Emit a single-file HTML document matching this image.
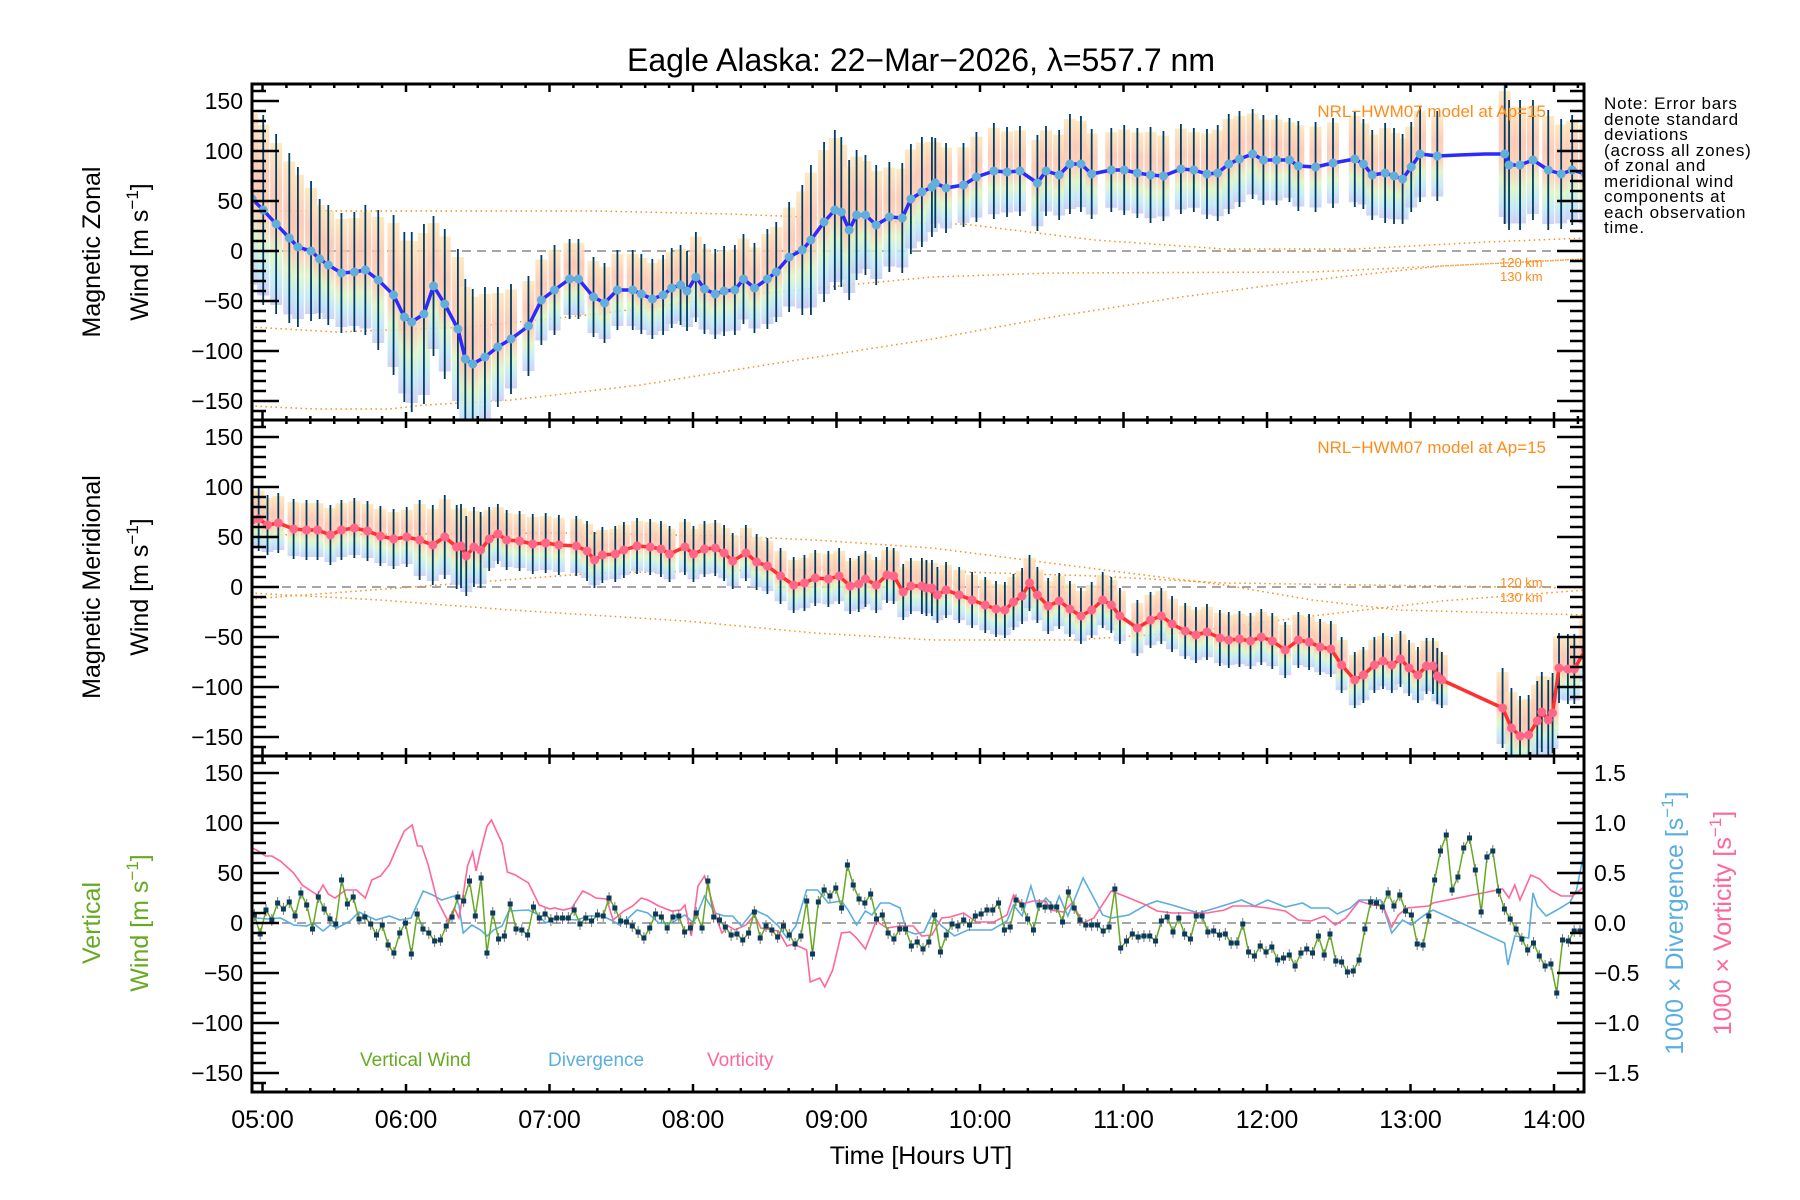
<!DOCTYPE html>
<html><head><meta charset="utf-8"><title>Eagle Alaska winds</title>
<style>
html,body{margin:0;padding:0;background:#fff;}
svg{display:block;font-family:"Liberation Sans",sans-serif;}
</style></head>
<body>
<svg id="chart" width="1800" height="1200" viewBox="0 0 1800 1200" xmlns="http://www.w3.org/2000/svg">
<defs>
<linearGradient id="pastel" x1="0" y1="0" x2="0" y2="1">
<stop offset="0" stop-color="#fde6b8"/><stop offset="0.3" stop-color="#fcc4ae"/><stop offset="0.55" stop-color="#fbcdb0"/>
<stop offset="0.7" stop-color="#dcf5c4"/><stop offset="0.85" stop-color="#bfe9f3"/><stop offset="1" stop-color="#c9c9f4"/>
</linearGradient>
<clipPath id="c0"><rect x="252" y="84" width="1332" height="336"/></clipPath>
<clipPath id="c1"><rect x="252" y="420" width="1332" height="336"/></clipPath>
<clipPath id="c2"><rect x="252" y="756" width="1332" height="336"/></clipPath>
</defs>
<rect width="1800" height="1200" fill="#fff"/>
<text x="921" y="71" font-size="32" text-anchor="middle">Eagle Alaska: 22−Mar−2026, λ=557.7 nm</text>
<g id="data-layer"></g>
<g id="axes-layer"></g>

<text transform="translate(100,252) rotate(-90)" font-size="25" text-anchor="middle">Magnetic Zonal</text>
<text transform="translate(148,252) rotate(-90)" font-size="25" text-anchor="middle">Wind [m s<tspan font-size="17" dy="-10">−1</tspan><tspan dy="10">]</tspan></text>
<text transform="translate(100,587) rotate(-90)" font-size="25" text-anchor="middle">Magnetic Meridional</text>
<text transform="translate(148,587) rotate(-90)" font-size="25" text-anchor="middle">Wind [m s<tspan font-size="17" dy="-10">−1</tspan><tspan dy="10">]</tspan></text>
<text transform="translate(100,923) rotate(-90)" font-size="25" text-anchor="middle" fill="#66aa22">Vertical</text>
<text transform="translate(148,923) rotate(-90)" font-size="25" text-anchor="middle" fill="#66aa22">Wind [m s<tspan font-size="17" dy="-10">−1</tspan><tspan dy="10">]</tspan></text>
<text transform="translate(1683,923) rotate(-90)" font-size="25" text-anchor="middle" fill="#5aaee0">1000 × Divergence [s<tspan font-size="17" dy="-10">−1</tspan><tspan dy="10">]</tspan></text>
<text transform="translate(1731,923) rotate(-90)" font-size="25" text-anchor="middle" fill="#ff6699">1000 × Vorticity [s<tspan font-size="17" dy="-10">−1</tspan><tspan dy="10">]</tspan></text>

<g font-size="17" letter-spacing="0.8">
<text x="1604" y="109">Note: Error bars</text><text x="1604" y="125">denote standard</text><text x="1604" y="140">deviations</text>
<text x="1604" y="156">(across all zones)</text><text x="1604" y="171">of zonal and</text><text x="1604" y="187">meridional wind</text>
<text x="1604" y="202">components at</text><text x="1604" y="218">each observation</text><text x="1604" y="233">time.</text>
</g>
<text x="1546" y="117" font-size="17" fill="#ff8c1a" text-anchor="end">NRL−HWM07 model at Ap=15</text>
<text x="1546" y="453" font-size="17" fill="#ff8c1a" text-anchor="end">NRL−HWM07 model at Ap=15</text>
<text x="1500" y="267" font-size="13" fill="#ff8c1a">120 km</text>
<text x="1500" y="281" font-size="13" fill="#ff8c1a">130 km</text>
<text x="1500" y="587" font-size="13" fill="#ff8c1a">120 km</text>
<text x="1500" y="602" font-size="13" fill="#ff8c1a">130 km</text>
<text x="360" y="1066" font-size="19" fill="#66aa22">Vertical Wind</text>
<text x="548" y="1066" font-size="19" fill="#5aaee0">Divergence</text>
<text x="707" y="1066" font-size="19" fill="#ff6699">Vorticity</text>
<text x="921" y="1164" font-size="25" text-anchor="middle">Time [Hours UT]</text>
</svg>
<script>
// ---- data (times in minutes after 05:00 UT) ----
const hourLabels = ["05:00","06:00","07:00","08:00","09:00","10:00","11:00","12:00","13:00","14:00"];
const windTicks = [150,100,50,0,-50,-100,-150];
const rightTicks = [1.5,1.0,0.5,0.0,-0.5,-1.0,-1.5];

const zonalTimes = [-4.3,0.3,5.7,11.2,14.8,20.3,23.9,27.5,33,38.4,43,48.4,54.8,59.3,62.4,67.5,71.5,76.2,81.7,84.8,87.9,93,98.4,103.9,111.2,116.6,122.1,128.4,132.1,138.4,143,148.4,154.8,158.4,163,167.5,171.1,174.8,177.5,181.2,184.8,189.3,193,197.5,201.1,205.7,211.1,214.8,220.2,225.7,229.3,234.8,239.3,242,245.3,248.4,252.1,256.6,262.1,267.5,271.1,275.7,279.9,
281.3,285.8,293.1,298.5,305.8,311.3,316.7,324,327.6,333.1,337.6,342.2,346.7,354.9,360.3,365.8,371.3,376.7,384,389.4,394.9,399.4,404,408.5,414,418.5,424,429.4,433.1,440.3,447.6,456.7,460.3,464,469.4,473.1,476.7,480.3,484,491.2,500.3,511.2,519.4,521.2,525.8,531.2,537.6,543,547.6,553.1];
const zonalValues = [52,41,27,13,4,0,-8,-14,-22,-21,-19,-29,-44,-66,-71,-63,-35,-53,-78,-108,-113,-106,-96,-88,-75,-49,-39,-28,-28,-46,-52,-39,-39,-43,-48,-44,-37,-34,-40,-26,-38,-43,-40,-39,-28,-37,-28,-21,-6,1,11,29,41,39,21,36,36,26,34,33,52,59,64,
68,63,66,74,80,79,80,68,80,76,87,87,77,81,81,78,76,75,82,81,77,78,87,92,97,91,91,91,85,84,88,92,87,76,78,75,72,84,97,95,96,97,97,86,86,91,81,77,81,77];
const zonalStd = [95,95,90,85,80,70,60,60,60,60,65,70,80,85,90,90,70,75,80,80,75,70,60,55,50,45,45,40,40,40,40,40,40,40,40,40,40,40,40,45,45,45,45,45,45,45,50,50,55,65,75,80,80,75,70,65,60,60,55,55,55,55,50,
45,45,42,45,48,45,45,48,45,45,50,48,45,42,45,45,48,45,45,42,45,48,50,48,45,45,45,42,45,45,45,48,45,45,50,48,45,45,48,45,0,0,70,65,65,60,60,55,55,55];

const meridTimes = [-4.3,-1.6,2.1,6.6,13,18.4,23,28.4,33,38.4,43.9,49.3,54.8,60.3,65.7,71.2,76.2,81.2,83,85.2,88.4,91.2,94.8,98.4,102.1,107.5,113,118.4,123.9,131.2,135.7,138.8,142.1,147.5,151.1,156.6,162.1,166.6,170.2,176.6,180.2,184.8,189.3,193,196.6,202.1,206.6,211.1,216.6,222.1,226.6,231.1,236.6,241.1,245.7,249.3,252.1,256.6,261.1,263.9,267.9,271.1,275.7,279.9,
277.6,282.2,285.8,291.3,296.7,302.2,306.7,310.4,314,317.6,320.7,324,328.5,333.1,337.6,342.2,346.7,351.3,354.9,358.5,365.8,371.3,375.8,380.3,385.8,390.3,394.9,400.3,404,408.5,413.1,417.6,422.2,427.6,433.1,437.6,442.2,446.7,451.2,456.7,460.3,464.9,468.5,472.2,475.8,479.4,483.1,486.7,489.4,491.2,493.1,518.5,522.2,525.8,529.4,533,534.9,537.6,539.4,542.1,545.8,548.5,553.1];
const meridValues = [67,68,62,64,58,57,57,52,57,59,56,51,48,50,47,42,50,40,41,31,40,37,48,53,47,46,43,44,42,41,36,27,32,33,37,41,40,38,33,40,33,38,39,34,26,34,25,21,11,2,4,9,8,11,1,3,8,2,12,11,-5,1,1,-1,
-1,-8,-3,-8,-13,-18,-22,-23,-15,-9,4,-8,-19,-14,-22,-29,-23,-13,-18,-29,-41,-33,-29,-37,-44,-48,-45,-51,-53,-52,-54,-50,-54,-63,-53,-55,-60,-62,-78,-93,-88,-78,-74,-78,-72,-81,-88,-79,-79,-89,-93,-121,-141,-149,-148,-134,-125,-133,-126,-81,-82,-82,-63];
const meridStd = [32,32,30,30,30,30,30,30,30,30,30,30,30,30,40,40,42,42,42,40,40,38,32,30,30,30,30,30,30,30,30,28,28,28,28,28,28,28,28,28,28,28,28,28,28,28,28,28,28,28,28,28,28,28,28,28,28,28,28,28,28,28,28,28,
28,28,28,28,28,28,28,28,28,28,28,28,28,28,28,28,28,28,28,28,28,28,28,28,28,28,28,28,28,28,28,28,28,28,28,28,28,28,28,28,28,28,28,28,28,28,28,28,28,28,28,40,40,40,40,40,40,40,40,35,35,35,35];

const modelTimesZ = [-5,31,86,131,140,195,249,280,293,348,402,457,512,553];
const zonalModelA = [40,40,40,40,40,37,32,27,27,11,2,2,9,13];
const zonalModelBTimes = [-5,31,86,140,195,249,280,330,439,493,553];
const zonalModelB = [-76,-81,-76,-63,-46,-33,-26,-22,-21,-15,-8];
const zonalModelCTimes = [-5,22,53,68,104,158,213,280,330,384,439,493,553];
const zonalModelC = [-155,-158,-158,-154,-149,-134,-113,-88,-66,-46,-29,-15,-8];
const meridModelATimes = [-5,131,195,231,280,352,402,439,475,553];
const meridModelA = [52,54,51,47,39,17,2,-13,-23,-28];
const meridModelBTimes = [-5,68,140,213,280,348,402,493,553];
const meridModelB = [-12,1,14,17,16,11,4,1,-1];
const meridModelCTimes = [-5,49,104,177,231,280,339,384,439,493,553];
const meridModelC = [-6,-13,-23,-34,-46,-53,-53,-46,-29,-14,-3];

const vertStart = -3.4, vertEnd = 553.3;
const vertValues = [8,-11,13,3,20,14,21,7,30,18,-6,26,14,4,-1,43,19,26,4,6,-1,-12,-2,-22,-30,-10,0,-31,9,-6,-10,-18,-17,-3,6,26,22,42,7,45,-30,10,-16,-13,19,-6,-7,-12,16,5,9,3,5,5,5,13,-1,5,2,8,7,25,15,2,1,-3,-9,-15,-5,9,6,-5,6,7,-9,-5,10,-5,42,6,3,-4,-12,-11,-17,-10,11,-15,-3,-7,-14,-3,-12,-21,-13,22,-31,21,33,27,35,15,58,38,24,20,29,4,8,-10,-16,-6,-6,-23,-19,-26,-19,8,
-29,-12,-1,-3,3,-2,7,9,13,13,20,-7,-4,23,18,4,-7,18,16,16,16,1,31,15,3,-2,-2,-2,-8,-4,34,-25,-18,-11,-14,-13,-13,-18,2,6,-9,5,-11,-16,7,7,-9,-8,-12,-11,-20,-20,-1,-29,-33,-23,-29,-24,-37,-35,-32,-43,-30,-26,-30,-13,-32,-11,-38,-39,-49,-48,-37,-6,21,20,16,30,17,28,12,8,-21,-22,7,43,72,88,33,46,75,85,53,11,66,72,32,14,4,-6,-16,-27,-20,-33,-43,-41,-70,-17,-18,-8,-8,-4];

const divTimes = [-5,-2.5,2,7.5,13,18.4,21.2,25.3,28.4,31.2,36.6,40.3,43.9,47.5,53,57.5,62.1,67.2,71.2,74.8,80.2,82.1,83.9,87.5,91.2,93.9,96.6,100.2,103,111.2,114.8,118.4,122.1,131.2,136.6,142.1,145.7,149.3,153,156.6,161.1,165.7,171.1,176.6,180.2,184.8,186.6,189.3,193,196.6,200.2,205.7,211.1,215.7,219.3,223,227.5,232.1,236.6,242.1,244.8,248.4,252.1,254.8,258.4,262.1,266.6,269.3,273,276.6,279.9,
284,289.4,294.9,304.9,311.3,314,317.6,321.3,324,327.6,331.3,333.1,336.7,343.1,347.6,351.3,354.9,362.2,369.4,374,380.3,391.3,398.5,409.4,414.9,420.3,427.6,434.9,438.5,445.8,449.4,454.9,458.5,464,467.6,472.2,476.7,480.3,485.8,489.4,519.4,520.7,523.6,529.4,531.2,533,536.7,541.2,546.7,549.4,553.1];
const divValues = [.18,.05,.04,.05,-.02,-.03,0,-.08,-.02,-.05,.02,.11,.07,.03,.07,.03,.05,.32,.28,.23,.27,.18,-.1,-.02,-.07,-.13,-.07,-.03,.12,.13,.09,0,.05,.03,.07,.07,.03,-.02,.05,.13,.1,0,0,.08,0,.27,.2,.1,.07,.07,-.03,.13,.07,-.03,-.15,-.03,.33,.33,.2,.22,.13,-.02,.12,.08,.2,.2,.15,-.08,-.11,-.09,.08,
-.03,-.13,-.07,-.07,.02,.18,.07,.37,.15,.25,.15,.27,.07,.45,.25,.08,.05,.08,.18,.22,.18,.1,.15,.23,.17,.23,.16,.2,.15,.15,.09,.15,.23,.23,.23,-.1,.03,-.02,.08,.13,-.2,-.42,-.13,-.15,.3,.17,.07,.13,.21,.33,.77];

const vortTimes = [-5.2,-2.5,1.2,3.9,7.5,13,16.6,20.3,23,25.3,27.5,30.3,34.8,39.3,43,45.7,49.3,53,55.7,59.3,62.6,64.8,66.6,69.3,73,77.5,80.2,82.1,84.2,85.7,87.9,89.3,91.2,93.9,95.7,100.2,102.4,105.7,111.2,115.7,120.2,122.1,125.7,129.3,133.9,136.6,139.3,143.9,146.6,151.1,154.8,158.4,161.1,165.7,171.1,174.8,176.6,179.3,182.1,184.8,186.6,190.2,192.1,194.8,197.5,202.1,205.7,208.4,213,215.7,219.3,222.1,227.5,229,233,235.1,238.4,242.1,245.7,248.4,252.1,256.6,261.1,266.6,272.1,275.7,279.9,
284,287.6,293.1,298.5,305.8,311.3,314,317.6,322.2,327.6,329.4,334.9,338.5,343.1,347.6,354.9,360.3,369.4,374,380.3,387.6,394.9,402.2,405.8,413.1,420.3,427.6,433.1,438.5,444,448.5,453,458.5,464,468.5,472.2,474.9,478.5,487.6,489.4,518.5,521.2,523.6,525.8,530.3,534,538.5,543,547.6,553.1];
const vortValues = [.76,.73,.67,.67,.62,.5,.38,.32,.28,.38,.29,.25,.33,.33,.25,.43,.47,.58,.73,.92,.98,.77,.77,.58,.23,.02,.15,.05,.33,.57,.71,.52,.72,.97,1.03,.8,.51,.48,.4,.18,.14,.15,.13,.15,.32,.29,.25,.24,.03,.12,.17,.25,.23,.17,.12,.13,.18,-.13,.37,.47,.33,.02,-.1,-.03,-.07,-.02,.08,-.05,-.07,-.08,-.23,-.21,-.27,-.59,-.55,-.64,-.47,-.1,-.09,-.15,-.26,.02,-.05,-.03,-.03,-.13,-.12,
.05,.06,.1,.01,.01,.08,.28,.19,.22,.22,.13,.11,.2,0,.05,.32,.27,.18,.12,.1,.1,.1,.13,.17,.17,.15,.12,.03,.02,.07,-.02,.05,.22,.18,.17,-.04,.08,.15,.17,.2,.34,.25,.38,.23,.48,.44,.33,.27,.27,.37];

// ---- geometry ----
const NS = "http://www.w3.org/2000/svg";
const L = 252, R = 1584, tops = [84,420,756], PH = 336;
function X(m){ return 262.5 + 143.5*m/60; }
function Yw(p,v){ return tops[p] + 167 - v; }
function Yr(v){ return tops[2] + 167 - v*100; }
function mk(tag, attrs, parent){
  const e = document.createElementNS(NS, tag);
  for (const k in attrs) e.setAttribute(k, attrs[k]);
  parent.appendChild(e); return e;
}
const dataLayer = document.getElementById("data-layer");
const axesLayer = document.getElementById("axes-layer");

function polyPts(times, vals, yf){
  const n = Math.min(times.length, vals.length); const a = [];
  for (let i=0;i<n;i++) a.push(X(times[i]).toFixed(1)+","+yf(vals[i]).toFixed(1));
  return a.join(" ");
}

const pg = [];
for (let p=0;p<3;p++){
  const g = mk("g", {"clip-path":"url(#c"+p+")"}, dataLayer);
  
  
  pg.push(g);
  const z = mk("line", {x1:L,x2:R,y1:Yw(p,0),y2:Yw(p,0),stroke:"#888",
    "stroke-width":1.5,"stroke-dasharray":"9,6"}, g);
  
  
}

function drawModel(p, times, vals, name){
  const e = mk("polyline", {points: polyPts(times, vals, v=>Yw(p,v)), fill:"none",
    stroke:"#ff8c1a","stroke-width":1.5,"stroke-dasharray":"1.5,3.5"}, pg[p]);
  
  
}

function drawHorizontal(p, times, vals, std, lineColor, dotColor, prefix){
  const g = pg[p]; const n = Math.min(times.length, vals.length);
  for (let i=0;i<n;i++){
    const s = std[i]||0; if (!s) continue;
    const x = X(times[i]);
    const r = mk("rect", {x:x-6, y:Yw(p,vals[i]+s*0.9), width:12, height:s*1.8,
      fill:"url(#pastel)", opacity:0.85}, g);
    
    
  }
  for (let i=0;i<n;i++){
    const s = std[i]||0; if (!s) continue;
    const x = X(times[i]);
    const b = mk("line", {x1:x,x2:x,y1:Yw(p,vals[i]+s),y2:Yw(p,vals[i]-s),
      stroke:"#003c64","stroke-width":1.8}, g);
    
    
  }
  const ln = mk("polyline", {points: polyPts(times, vals, v=>Yw(p,v)), fill:"none",
    stroke:lineColor,"stroke-width":3.5,"stroke-linejoin":"round"}, g);
  
  
  for (let i=0;i<n;i++){
    if (!(std[i]||0)) continue;
    const c = mk("circle", {cx:X(times[i]), cy:Yw(p,vals[i]), r:4.5, fill:dotColor}, g);
    
    
  }
}

drawModel(0, modelTimesZ, zonalModelA, "zonal-model-line-a");
drawModel(0, zonalModelBTimes, zonalModelB, "zonal-model-line-120km");
drawModel(0, zonalModelCTimes, zonalModelC, "zonal-model-line-130km");
drawHorizontal(0, zonalTimes, zonalValues, zonalStd, "#2b2bff", "#62aedc", "zonal");
drawModel(1, meridModelATimes, meridModelA, "meridional-model-line-a");
drawModel(1, meridModelBTimes, meridModelB, "meridional-model-line-120km");
drawModel(1, meridModelCTimes, meridModelC, "meridional-model-line-130km");
drawHorizontal(1, meridTimes, meridValues, meridStd, "#ff3030", "#ff6688", "meridional");

const dv = mk("polyline", {points: polyPts(divTimes, divValues, Yr), fill:"none", stroke:"#5aaee0","stroke-width":1.6}, pg[2]);


const vt = mk("polyline", {points: polyPts(vortTimes, vortValues, Yr), fill:"none", stroke:"#ff6699","stroke-width":1.6}, pg[2]);


const vertTimes = [];
for (let i=0;i<vertValues.length;i++) vertTimes.push(vertStart + (vertEnd-vertStart)*i/(vertValues.length-1));
const vw = mk("polyline", {points: polyPts(vertTimes, vertValues, v=>Yw(2,v)), fill:"none", stroke:"#66aa22","stroke-width":1.5}, pg[2]);


for (let i=0;i<vertValues.length;i++){
  const x = X(vertTimes[i]), y = Yw(2, vertValues[i]);
  const eb = mk("line", {x1:x,x2:x,y1:y-6,y2:y+6,stroke:"#777","stroke-width":1}, pg[2]);
  
  
  const pt = mk("rect", {x:x-2.5,y:y-2.5,width:5,height:5,fill:"#0b3a5c"}, pg[2]);
  
  
}

for (let p=0;p<3;p++){
  const t = tops[p], b = t+PH;
  const fr = mk("rect", {x:L,y:t,width:R-L,height:PH,fill:"none",stroke:"#000","stroke-width":3}, axesLayer);
  
  
  for (let v=-160; v<=160; v+=10){
    const y = Yw(p,v); if (y<=t+1 || y>=b-1) continue;
    const len = (v%50===0)?27:14;
    const tk = mk("line", {x1:L,x2:L+len,y1:y,y2:y,stroke:"#000","stroke-width":2.5}, axesLayer);
    
    
    if (p<2){
      const tr = mk("line", {x1:R-len,x2:R,y1:y,y2:y,stroke:"#000","stroke-width":2.5}, axesLayer);
      
      
    }
  }
  for (const v of windTicks){
    const lb = mk("text", {x:243,y:Yw(p,v)+8,"font-size":23,"text-anchor":"end"}, axesLayer);
    lb.textContent = (v<0?"−":"")+Math.abs(v);
    
    
  }
  for (let m=0; m<=550; m+=10){
    const x = X(m); if (x>R-1) continue;
    const len = (m%60===0)?8:4;
    const a = mk("line", {x1:x,x2:x,y1:t,y2:t+len,stroke:"#000","stroke-width":2.5}, axesLayer);
    
    
    const c = mk("line", {x1:x,x2:x,y1:b-len,y2:b,stroke:"#000","stroke-width":2.5}, axesLayer);
    
    
  }
}
for (let k=-15;k<=15;k++){
  const v = k/10, y = Yr(v);
  const len = (k%5===0)?27:14;
  const tk = mk("line", {x1:R-len,x2:R,y1:y,y2:y,stroke:"#000","stroke-width":2.5}, axesLayer);
  
  
}
for (const v of rightTicks){
  const lb = mk("text", {x:1594,y:Yr(v)+8,"font-size":23}, axesLayer);
  lb.textContent = (v<0?"−":"")+Math.abs(v).toFixed(1);
  
  
}
hourLabels.forEach((h,i)=>{
  const lb = mk("text", {x:X(i*60),y:1128,"font-size":25,"text-anchor":"middle"}, axesLayer);
  lb.textContent = h;
  
  
});
</script>
</body></html>
